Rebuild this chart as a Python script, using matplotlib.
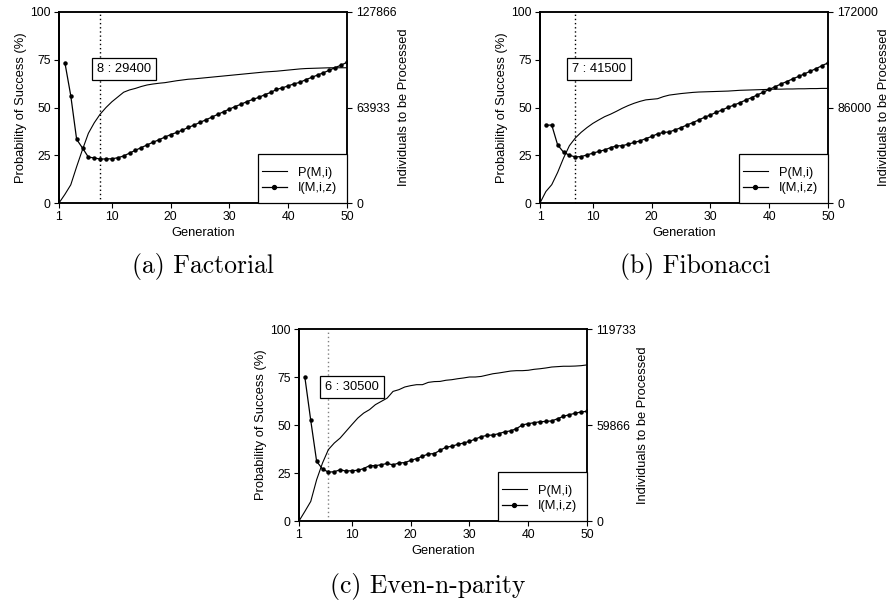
import numpy as np
import matplotlib
matplotlib.use("Agg")
import matplotlib.pyplot as plt
from matplotlib.patches import Rectangle
from matplotlib.lines import Line2D

plt.rcParams['font.family'] = ['Liberation Sans', 'DejaVu Sans']

generations = list(range(1, 51))
generations_I = list(range(2, 51))

# (a) Factorial
P_fact = [0, 4.5, 9.5, 19, 28, 36.5, 42, 46.5, 50, 53,
          55.5, 58, 59.2, 60, 61, 61.8, 62.3, 62.7, 63.0, 63.5,
          64.0, 64.4, 64.8, 65.0, 65.3, 65.6, 65.9, 66.2, 66.5, 66.8,
          67.1, 67.4, 67.7, 68.0, 68.3, 68.6, 68.8, 69.0, 69.3, 69.6,
          69.9, 70.2, 70.4, 70.5, 70.6, 70.7, 70.8, 70.8, 70.8, 70.8]
I_fact = [94000, 71900, 42600, 36800, 30700, 30200, 29400, 29500, 29600,
          30300, 31500, 33400, 35300, 37100, 38900, 40700, 42300, 44100, 45800,
          47200, 48800, 50600, 52200, 54000, 55700, 57500, 59300, 61100, 62900,
          64600, 66200, 67900, 69400, 70700, 72500, 74000, 76000, 77100, 78400,
          79800, 80800, 82600, 84100, 85700, 87200, 88900, 90700, 92300, 94200]
Imax_fact = 127866

# (b) Fibonacci
P_fib = [0, 6, 9.6, 16, 23.5, 30, 34, 37, 39.5, 41.7,
         43.5, 45.2, 46.5, 48, 49.6, 51, 52.2, 53.2, 54, 54.3,
         54.6, 55.7, 56.5, 56.9, 57.3, 57.6, 57.9, 58.1, 58.2, 58.3,
         58.4, 58.5, 58.6, 58.8, 59.0, 59.1, 59.2, 59.3, 59.4, 59.5,
         59.6, 59.6, 59.7, 59.7, 59.8, 59.8, 59.9, 59.9, 60.0, 60.0]
I_fib = [70000, 70200, 52300, 45800, 43000, 41500, 41800, 43300, 44900,
         46400, 47800, 49900, 51400, 51600, 53000, 54500, 55900, 58000, 59900,
         62300, 63500, 64000, 65900, 67900, 70300, 72400, 74800, 77200, 79300,
         81700, 83800, 86200, 88200, 90300, 92700, 94900, 97400, 99800, 102300,
         104700, 107200, 109400, 111800, 114000, 116300, 118700, 121100, 123700, 126200]
Imax_fib = 172000

# (c) Even-n-parity
P_par = [0, 5, 10.2, 21.5, 30.2, 37.2, 40.6, 43.2, 46.7, 50.2,
         53.6, 56.2, 58, 60.6, 62.3, 64, 67.5, 68.4, 69.8, 70.5,
         71, 71, 72.2, 72.6, 72.7, 73.3, 73.6, 74.1, 74.5, 75,
         75, 75.3, 76, 76.7, 77.1, 77.6, 78.1, 78.3, 78.3, 78.5,
         79, 79.3, 79.7, 80.2, 80.4, 80.6, 80.6, 80.7, 80.9, 81.3]
I_par = [89600, 62700, 37200, 32400, 30500, 30700, 32000, 31100, 31400,
         31600, 32700, 34500, 34500, 35100, 35900, 35000, 36200, 36400, 37800,
         38900, 40400, 41800, 42000, 44100, 46000, 46600, 47800, 48600, 49700,
         51100, 52600, 53400, 53600, 54500, 55600, 56200, 57600, 59900, 60700,
         61300, 61900, 62100, 62400, 63800, 65300, 66300, 67200, 68000, 68400]
Imax_par = 119733

captions = ["(a) Factorial", "(b) Fibonacci", "(c) Even-n-parity"]

W, H = 889, 606
fig = plt.figure(figsize=(W / 100, H / 100), dpi=100)

FS = 9.3
TFS = 8.8
MS = 2.2


def px_rect(left, top, right, bottom):
    return [left / W, 1 - bottom / H, (right - left) / W, (bottom - top) / H]


def panel(rect_px, P, I, Imax, caption, cap_px, dot_color, rlabelpad):
    ax = fig.add_axes(px_rect(*rect_px))
    ax.plot(generations, P, color='black', lw=0.8, zorder=2)
    ax.set_xlim(1, 50)
    ax.set_ylim(0, 100)
    ax.set_xticks([1, 10, 20, 30, 40, 50])
    ax.set_yticks([0, 25, 50, 75, 100])
    ax.tick_params(direction='out', length=3.5, width=0.8, labelsize=TFS, pad=2.5)
    ax.set_xlabel('Generation', fontsize=FS, labelpad=3)
    ax.set_ylabel('Probability of Success (%)', fontsize=FS, labelpad=2)
    for s in ax.spines.values():
        s.set_linewidth(1.1)
    ax.spines['left'].set_linewidth(1.4)

    ax2 = ax.twinx()
    ax2.plot(generations_I, I, color='black', lw=0.9, marker='o', ms=MS, zorder=3)
    ax2.set_ylim(0, Imax)
    ax2.set_yticks([0, Imax / 2, Imax])
    ax2.set_yticklabels(['0', str(int(Imax // 2)), str(Imax)])
    ax2.tick_params(direction='out', length=3.5, width=0.8, labelsize=TFS, pad=3)
    ax2.set_ylabel('Individuals to be Processed', fontsize=FS, rotation=90,
                   labelpad=rlabelpad)
    for s in ax2.spines.values():
        s.set_linewidth(1.1)
    ax2.spines['left'].set_linewidth(1.4)

    k = int(np.argmin(I))
    best_gen = generations_I[k]
    best_val = I[k]
    ax.axvline(best_gen, ls=(0, (1, 2)), color=dot_color, lw=1.0, zorder=1)
    ax.text(best_gen + 4, 70, f"{best_gen} : {best_val}", fontsize=FS,
            ha='center', va='center', zorder=5,
            bbox=dict(boxstyle='square,pad=0.38', fc='white', ec='black', lw=0.9))

    # legend box
    left, top, right, bottom = rect_px
    aw = right - left
    ah = bottom - top
    bx = (aw - 89) / aw
    bh = 49 / ah
    ax2.add_patch(Rectangle((bx, 0), 1 - bx, bh, transform=ax2.transAxes,
                            fc='white', ec='black', lw=0.9, zorder=6, clip_on=False))
    handles = [Line2D([], [], color='black', lw=0.8),
               Line2D([], [], color='black', lw=0.9, marker='o', ms=MS + 0.6)]
    leg = ax2.legend(handles, ['P(M,i)', 'I(M,i,z)'], loc='center left',
                     bbox_to_anchor=((aw - 85.5) / aw, 22.5 / ah),
                     frameon=False, borderpad=0, handlelength=1.95,
                     handletextpad=0.85, labelspacing=0.25, fontsize=FS,
                     borderaxespad=0)
    leg.set_zorder(7)

    fig.text(cap_px[0] / W, 1 - cap_px[1] / H, caption, family='cmr10',
             fontsize=18.5, ha='center', va='baseline')


panel((59, 12, 347, 203), P_fact, I_fact, Imax_fact, captions[0], (203, 273), 'black', 1)
panel((540, 12, 828, 203), P_fib, I_fib, Imax_fib, captions[1], (695, 273), 'black', 0)
panel((299, 329, 587, 521), P_par, I_par, Imax_par, captions[2], (428, 593), '#808080', 1)

fig.savefig('out.png', dpi=100)
